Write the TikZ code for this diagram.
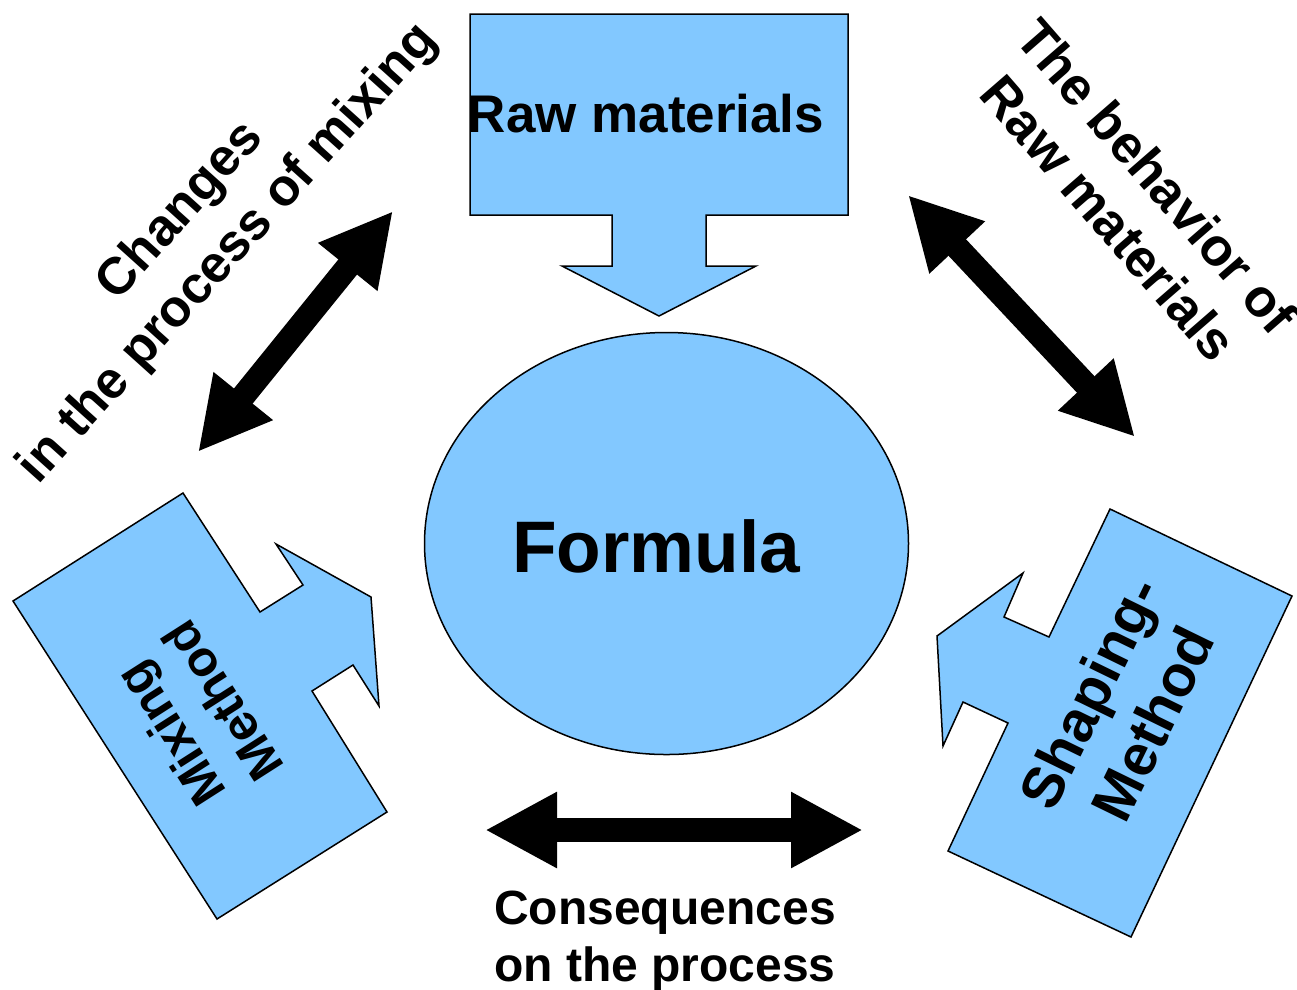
\documentclass[tikz,border=0pt]{standalone}
\usepackage{fontspec}
\setmainfont{Liberation Sans}
\usetikzlibrary{arrows.meta,shapes.geometric}

\definecolor{boxblue}{RGB}{130,200,255}

\tikzset{
  callout/.style={fill=boxblue, draw=black, line width=1.5pt, line join=miter},
  bigarrow/.style={line width=24pt,
    {Triangle[length=72pt,width=71pt]}-{Triangle[length=72pt,width=71pt]}},
  lbl/.style 2 args={font=\fontsize{#1}{#2}\selectfont\bfseries, align=center, inner sep=0pt}
}

\begin{document}
\begin{tikzpicture}[x=1pt, y=-1pt]

\useasboundingbox (0,0) rectangle (1297,989);

% callouts
\draw[callout] (470,14) -- (848,14) -- (848,215) -- (706,215) -- (706,266) -- (756,266)
  -- (659,316) -- (562,266) -- (612,266) -- (612,215) -- (470,215) -- cycle;
\draw[callout] (13,601) -- (183,493) -- (260,612) -- (303,585) -- (276,544) -- (371,597)
  -- (379,706) -- (353,665) -- (312,691) -- (387,812) -- (217,919) -- cycle;
\draw[callout] (1110,509) -- (1292,596) -- (1131,937) -- (948,851) -- (1008,723) -- (963,702)
  -- (943,746) -- (937,636) -- (1023,573) -- (1004,617) -- (1049,637) -- cycle;

\node[callout, ellipse, minimum width=484, minimum height=422] (formula) at (666.5,543.5) {};
\node[lbl={73}{80}] (formulatxt) at (656,546) {Formula};

\node[lbl={53}{62}] (raw) at (646,114) {Raw materials};
\node[lbl={50}{62}, rotate=122.6] (mixing) at (196,718) {Mixing\\Method};
\node[lbl={58}{70}, rotate=64] (shaping) at (1121,708) {Shaping-\\Method};

% double arrows
\coordinate (1) at (198,452);
\coordinate (2) at (393,211);
\coordinate (3) at (908,195);
\coordinate (4) at (1135,437);
\coordinate (5) at (485,830);
\coordinate (6) at (863,830);

\foreach \a/\b in {1/2,3/4,5/6}
    \draw[bigarrow] (\a) -- (\b);

\node[lbl={52}{64}, rotate=48] (changes) at (205,233) {Changes\\in the process of mixing};
\node[lbl={53}{64}, rotate=-49] (behavior) at (1133,197) {The behavior of\\Raw materials};
\node[lbl={48}{57}] (conseq) at (665,941) {Consequences\\on the process};

\end{tikzpicture}
\end{document}
